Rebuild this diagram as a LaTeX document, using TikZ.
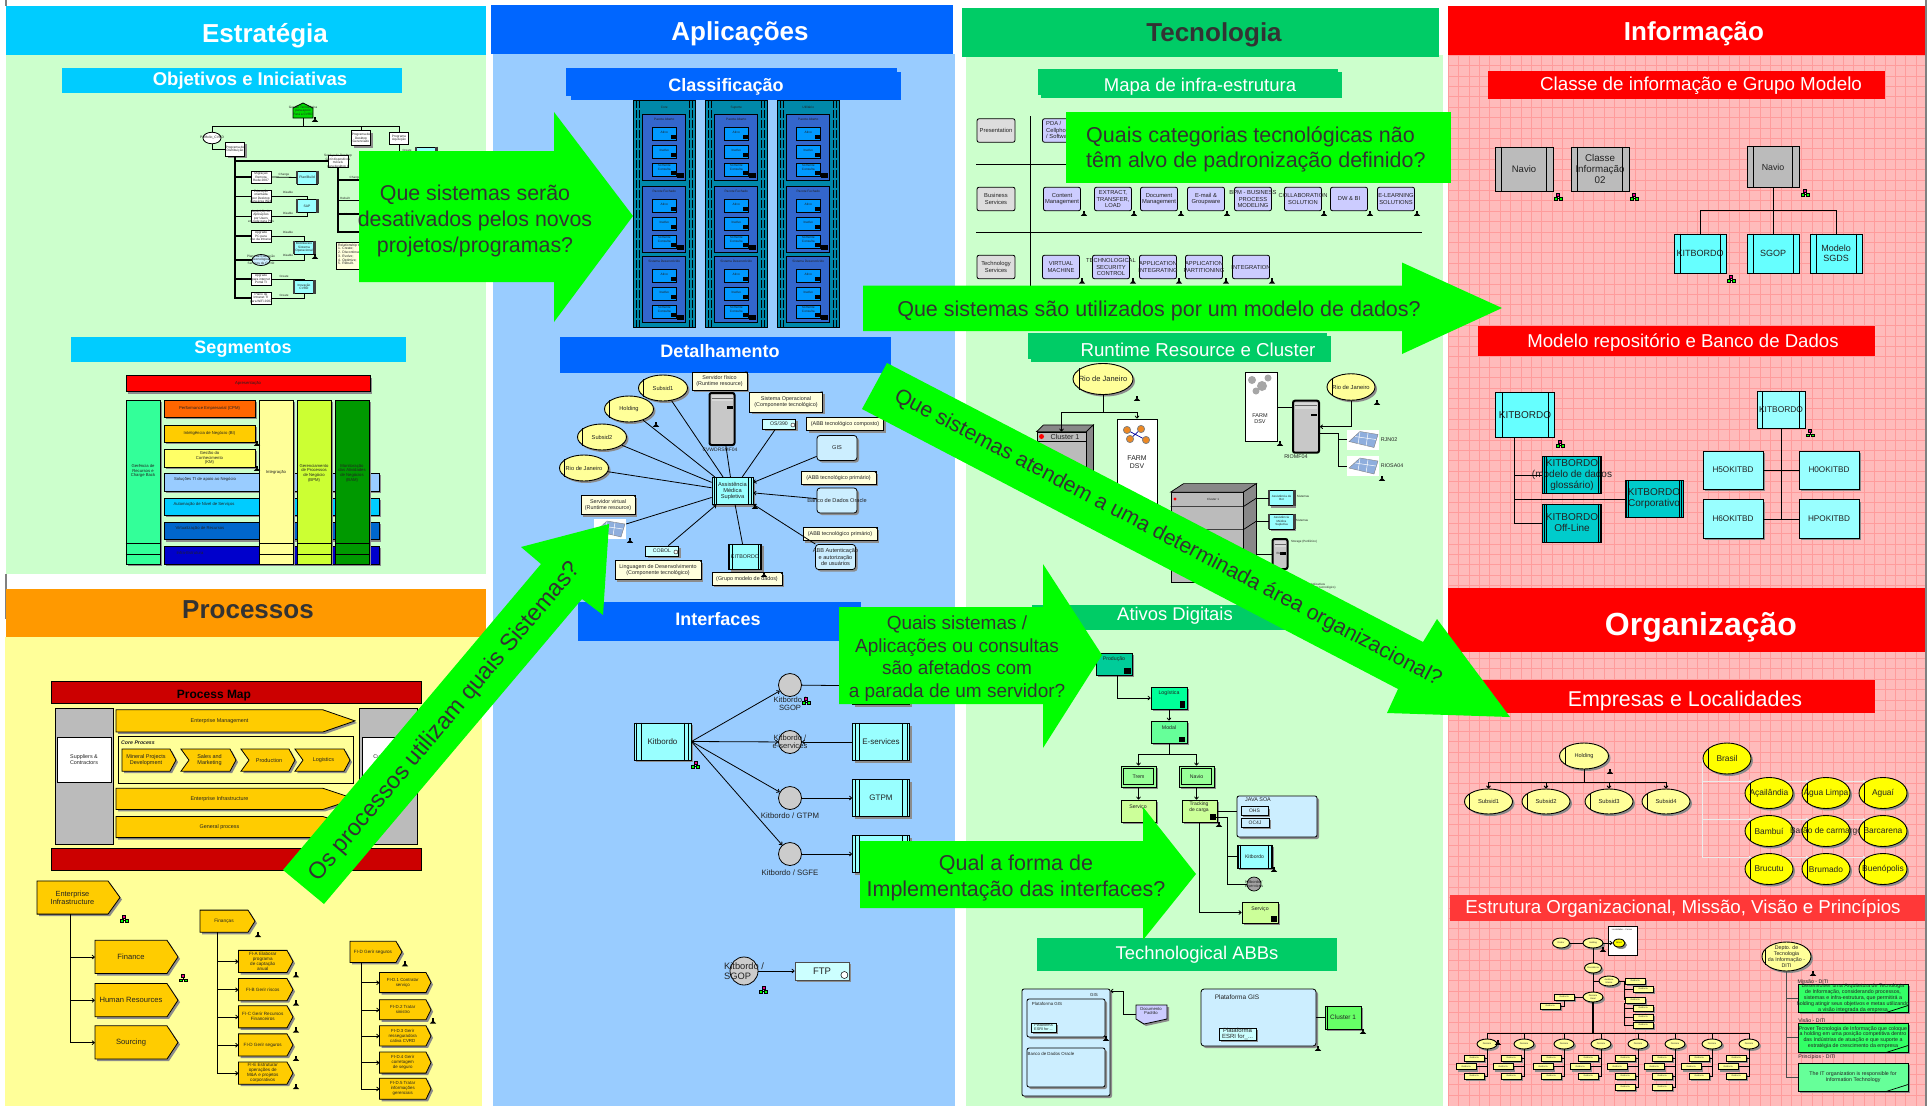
\documentclass[tikz,border=0pt]{standalone}
\usepackage{fontspec}
\setmainfont{Liberation Sans}
\usetikzlibrary{calc,shadows,shapes.geometric,shapes.misc,arrows.meta}
\pgfdeclarelayer{bg}\pgfdeclarelayer{lines}
\pgfsetlayers{bg,lines,main}
\definecolor{cEst}{HTML}{00CCFF}\definecolor{cApl}{HTML}{0066FF}\definecolor{cTec}{HTML}{00CC66}
\definecolor{cPro}{HTML}{FF9900}\definecolor{bgEst}{HTML}{CCFFCC}\definecolor{bgPro}{HTML}{FFFF99}
\definecolor{bgApl}{HTML}{99CCFF}\definecolor{bgInf}{HTML}{FFBBBB}\definecolor{gridc}{HTML}{FF9C9C}
\definecolor{arrowc}{HTML}{00FF00}\definecolor{txtc}{HTML}{222222}\definecolor{txd}{HTML}{333333}
\definecolor{chevc}{HTML}{FFCC00}\definecolor{grayb}{HTML}{BBBBBB}\definecolor{notec}{HTML}{FFFFDD}
\definecolor{ltb}{HTML}{CCEEFF}\definecolor{lav}{HTML}{CCCCFF}\definecolor{ylw}{HTML}{FFFF99}
\definecolor{cy}{HTML}{99FFFF}\definecolor{cy2}{HTML}{66FFFF}\definecolor{teal}{HTML}{00CCCC}
\definecolor{ffbox}{HTML}{CCFFFF}\definecolor{srvg}{HTML}{C8C8C8}
\newcommand\fz[1]{\fontsize{#1}{\the\dimexpr #1pt*11/10\relax}\selectfont}
\newcommand\fzl[2]{\fontsize{#1}{#2}\selectfont}
\tikzset{
 shd/.style={general shadow={shadow xshift=2pt,shadow yshift=-2pt,fill=black!45}},
 bxs/.style={draw=black,line width=.8pt,inner sep=0pt,shd},
 bxn/.style={draw=black,line width=.8pt,inner sep=0pt},
 elp/.style={ellipse,draw=black,line width=.9pt,inner sep=0pt,shd},
 txt/.style={inner sep=0pt,align=center,text=txtc},
 conn/.style={draw=black,line width=.8pt},
 arr/.style={conn,-{To[length=3pt,width=4.5pt]}},
 hexa/.style={chamfered rectangle,chamfered rectangle xsep=2.5pt,draw=black,line width=.9pt,inner sep=0pt,fill=white},
 pale/.style={draw=black!8,line width=1pt,-{To[length=3pt,width=4pt]}},
 bigt/.style={inner sep=0pt,align=center,text=txd},
}
\newcommand\nd[7]{\node[#1,minimum width=#4pt,minimum height=#5pt] (#2) at (#3) {};\node[txt,font=\fz{#6}] (#2t) at (#2) {#7};}
\newcommand\lb[4]{\node[txt,font=\fz{#3}] (#1) at (#2) {#4};}
\newcommand\lbw[4]{\node[inner sep=0pt,align=center,text=white,font=\fz{#3}] (#1) at (#2) {#4};}
\newcommand\bars[2]{\draw[line width=.7pt] ($(#1.north west)+(#2,0)$)--($(#1.south west)+(#2,0)$);\draw[line width=.7pt] ($(#1.north east)+(-#2,0)$)--($(#1.south east)+(-#2,0)$);}
\newcommand\sidebars[1]{\draw[line width=2.2pt,black!75] (#1.north west)--(#1.south west);\draw[line width=2.2pt,black!75] (#1.north east)--(#1.south east);}
\newcommand\chv[9]{\fill[black!45,shift={(2,2)}] (#2,#3)--({#4-#7},#3)--(#4,{(#3+#5)/2})--({#4-#7},#5)--(#2,#5)--({#2+#6},{(#3+#5)/2})--cycle;
 \draw[fill=chevc,line width=.8pt] (#2,#3)--({#4-#7},#3)--(#4,{(#3+#5)/2})--({#4-#7},#5)--(#2,#5)--({#2+#6},{(#3+#5)/2})--cycle;
 \node[inner sep=0pt,minimum width={(#4-#2)*1pt},minimum height={(#5-#3)*1pt}] (#1) at ({(#2+#4)/2},{(#3+#5)/2}) {};
 \node[txt,font=\fz{#8}] (#1t) at ({(#2+#4-#7+#6)/2},{(#3+#5)/2}) {#9};}
\newcommand\ico[1]{\begin{scope}[shift={(#1)}]\fill[black] (-1.4,-3.5) rectangle (1.4,-.7);\fill[black] (0,-1.5)--(3.2,1.8)--(-3.2,1.8)--cycle;\end{scope}}
\newcommand\icoc[1]{\begin{scope}[shift={(#1)}]\draw[black,line width=.5pt] (0,-1)--(0,0) (-3,1)--(3,1);\draw[black,fill=magenta,line width=.6pt] (-1.3,-4) rectangle (1.3,-1.2);\draw[black,fill=green,line width=.6pt] (-4,.6) rectangle (-1,3);\draw[black,fill=green,line width=.6pt] (1,.6) rectangle (4,3);\end{scope}}
\newcommand\notefold[1]{\fill[black] ($(#1.north east)+(-2.5,0)$)--(#1.north east)--($(#1.north east)+(0,2.5)$)--cycle;}
\newcommand\srv[4]{\node[draw=black,line width=2pt,rounded corners=2pt,fill=srvg,inner sep=0pt,minimum width=#3pt,minimum height=#4pt] (#1) at (#2) {};
 \fill[white!85!black] ($(#1.north west)+(3,3)$) rectangle ($(#1.north east)+(-3,9)$);\draw[black!60,line width=.6pt] ($(#1.north west)+(3,6)$)--($(#1.north east)+(-3,6)$);
 \fill[black] ($(#1.north east)+(-9,14)$) rectangle ($(#1.north east)+(-3,16.5)$);}
\newcommand\rck[3]{\node[fill=white,inner sep=0pt,minimum width=32pt,minimum height=20pt] (#1) at (#2) {};\begin{scope}[shift={(#2)}]\draw[fill=#3,draw=black!50,line width=.4pt] (-14,2)--(-3,-8)--(15,-5)--(11,8)--cycle;\draw[white,line width=.5pt] (-8,-3)--(13,0) (-3,-8)--(-5,5) (5,-6.5)--(3,7);\end{scope}}
\newcommand\orgbar[3]{\draw[line width=.8pt] ($(#1)+(-#2,-#3)$)--($(#1)+(-#2,#3)$);}
\begin{document}
\begin{tikzpicture}[x=1pt,y=-1pt]
\useasboundingbox (0,0) rectangle (1931,1106);
\begin{pgfonlayer}{bg}
\fill[white] (0,0) rectangle (1931,1106);
\fill[black!50] (5,0) rectangle (6.5,6);\fill[black!50] (5,574) rectangle (6.5,619);\fill[black!50] (1925,0) rectangle (1926.5,1106);
\fill[bgEst] (6,55) rectangle (486,574);
\fill[bgPro] (5,637) rectangle (482,1106);
\fill[bgApl] (493,54) rectangle (955,1106);
\fill[bgEst] (966,55) rectangle (1443,1106);
\fill[bgInf] (1448,55) rectangle (1925,1106);
\foreach \gx in {0,...,45} {\draw[gridc,line width=.5pt] ({1448+\gx*10.4},55)--({1448+\gx*10.4},1106);}
\foreach \gy in {0,...,100} {\draw[gridc,line width=.5pt] (1448,{55+\gy*10.4})--(1925,{55+\gy*10.4});}
\end{pgfonlayer}
% main headers
\fill[cEst] (6,6) rectangle (486,55);\lbw{hEst}{265,36}{26}{\bfseries Estratégia}
\fill[cPro] (6,589) rectangle (486,637);\node[txt,text=txd,font=\fz{26}\bfseries] (hPro) at (248,610) {Processos};
\fill[cApl] (491,5) rectangle (953,54);\lbw{hApl}{740,34}{26}{\bfseries Aplicações}
\fill[cTec] (962,8) rectangle (1439,57);\node[txt,text=txd,font=\fz{26}\bfseries] (hTec) at (1214,35) {Tecnologia};
\fill[red] (1448,6) rectangle (1925,55);\lbw{hInf}{1694,34}{26}{\bfseries Informação}
\fill[red] (1448,588) rectangle (1925,652);\lbw{hOrg}{1701,627}{32}{\bfseries Organização}
% sub headers
\fill[cEst] (62,68) rectangle (402,92.5);\lbw{sObj}{250,81}{18.5}{\bfseries Objetivos e Iniciativas}
\fill[cEst] (71,337) rectangle (406,362);\lbw{sSeg}{243,349}{18}{\bfseries Segmentos}
\fill[cApl] (566,68) rectangle (897,96);\fill[cApl] (571,72) rectangle (901,100);\lbw{sCla}{726,87}{18}{\bfseries Classificação}
\fill[cApl] (560,337) rectangle (891,373);\lbw{sDet}{720,351}{18}{\bfseries Detalhamento}
\fill[cApl] (578,602) rectangle (861,641);\lbw{sInt}{718,619}{18}{\bfseries Interfaces}
\fill[cTec] (1038,69) rectangle (1338,95);\fill[cTec] (1041,72) rectangle (1342,98);\lbw{sMap}{1200,87}{18.5}{Mapa de infra-estrutura}
\fill[cTec] (1028,333) rectangle (1327,359);\fill[cTec] (1031,336) rectangle (1331,362);\lbw{sRun}{1198,350}{18.7}{Runtime Resource e Cluster}
\fill[cTec] (1032,605) rectangle (1300,630);\lbw{sAti}{1175,616}{18.4}{Ativos Digitais}
\fill[cTec] (1037,938) rectangle (1337,971);\lbw{sTec}{1197,955}{18.4}{Technological ABBs}
\fill[red] (1488,71) rectangle (1885,99);\lbw{sCls}{1701,86}{18.8}{Classe de informação e Grupo Modelo}
\fill[red] (1478,326) rectangle (1875,356);\lbw{sMod}{1683,343}{18.6}{Modelo repositório e Banco de Dados}
\fill[red] (1470,680) rectangle (1875,713);\lbw{sEmp}{1685,701}{21.4}{Empresas e Localidades}
\fill[red!70!bgInf] (1450,895) rectangle (1925,921);\lbw{sEsOrg}{1683,908.5}{18.7}{Estrutura Organizacional, Missão, Visão e Princípios}

% ---------- Objetivos
\draw[fill=green!85!black,line width=.8pt] (293,108)--(303,103)--(313,108)--(313,118)--(293,118)--cycle;
\nd{inner sep=0pt}{ob0}{303,110.5}{20}{15}{3.2}{Gestão Tecnológica\\para apoio\\Pará a CVRD}
\nd{ellipse,draw=black,line width=.8pt,fill=white,inner sep=0pt}{oa}{212,138}{18}{11.5}{3.4}{Portfolio\_CVRD}
\nd{bxs,fill=white}{ob1}{235,149}{19}{14}{3.2}{Programa de\\Distribuição}
\nd{bxs,fill=white}{oc}{361,138}{19}{15}{3.2}{Programa de\\Desktop\\Gerenciado}
\nd{hexa}{od}{399,138}{19}{12}{3.2}{Programa\\Aquisição}
\nd{hexa}{hx}{338,161}{20}{12}{3.2}{Serviço de Desktop\\Gerir dispositivos\\móveis\\para desktop 1}
\coordinate (obj) at (303,126);
\draw[conn] (ob0.south)--(obj);\draw[conn] (oa.north)|-(obj);\draw[conn] (oc.north)|-(obj);\draw[conn] (od.north)|-(obj);
\draw[conn] (oa.south)|-(ob1.west);
\nd{hexa}{h1}{261,177}{20}{12}{3.2}{Migração\\Remota\\Rede 2007}
\nd{hexa}{h2}{261,196.5}{20}{12}{3.2}{Educação\\orientada\\por Desktop\\para área Web}
\nd{hexa}{h3}{261,216.5}{20}{12}{3.2}{Aquisição de\\Aplicações\\por Users\\em rede para PCs}
\nd{hexa}{h4}{261,236}{20}{12}{3.2}{Upgrade\\PC para\\uso da Intranet}
\nd{ellipse,draw=black,line width=.8pt,fill=ltb,inner sep=0pt}{h5}{261,260}{18}{11}{3.2}{Plano de Educação\\Tecnológica\\Serviços de CVRD}
\nd{hexa}{h6}{261,279}{20}{12}{3.2}{Upgrade\\para internet\\Portal TI}
\nd{hexa}{h7}{261,298}{20}{12}{3.2}{Plano de\\Intranet TI\\para WiFi 2007}
\foreach \i in {1,...,7}{\draw[conn,line width=1.1pt] (ob1.south)|-(h\i.west);}
\draw[conn,line width=1.1pt] (ob1.south)|-(hx.west);
\nd{bxn,fill=cy}{b1}{307,177.5}{20}{13}{3.4}{Plan/Build}\sidebars{b1}
\nd{bxn,fill=cy}{b2}{307,206}{20}{13}{3.4}{SAP}\sidebars{b2}
\nd{bxn,fill=cy}{b3}{304,247.5}{20}{13}{3.2}{Middleware\\Sistema\\Operacional}\sidebars{b3}
\nd{bxn,fill=cy}{b4}{304,287}{20}{13}{3.2}{Inovação\\CVRD}\sidebars{b4}
\nd{bxn,fill=cy}{b5}{426,155}{20}{16}{3.2}{Sistema}\sidebars{b5}
\draw[conn] (h1.east)--(b1.west);\draw[conn] (h2.east)-|(b2.north);\draw[conn] (h3.east)-|(b2.south);
\draw[conn] (h4.east)-|(b3.north);\draw[conn] (h5.east)-|(b3.south);\draw[conn] (h6.east)-|(b4.north);\draw[conn] (h7.east)-|(b4.south);
\draw[conn] (od.south)|-(b5.west);
\lb{l1}{284,175}{3}{Change}\lb{l2}{288,192}{3}{Disable}\lb{l3}{288,213}{3}{Disable}\lb{l4}{288,232}{3}{Disable}\lb{l5}{288,255}{3}{Disable}\lb{l6}{284,276}{3}{Create}\lb{l7}{284,295}{3}{Create}
\lb{l8}{407,150}{3}{Create}\lb{l9}{355,178}{3}{Change}\lb{l10}{345,198}{3}{Rebuilt}\lb{l11}{352,214}{3}{Discontinue}
\coordinate (hq1) at (400,180);\coordinate (hq2) at (400,200.5);\coordinate (hq3) at (400,214);\coordinate (hq4) at (400,232);
\foreach \i in {1,2,3,4}{\draw[conn,line width=1.1pt] (hx.south)|-(hq\i);}
\node[bxn,fill=notec,minimum width=50pt,minimum height=27pt] (onote) at (361,255.5) {};
\node[txt,font=\fz{3.4},align=left,anchor=north west] (onotet) at (338,243.5) {Relationship to:\\1. Create;\\2. Discontinue;\\3. Evolve;\\4. Optimize;\\5. Rebuilt.};
\ico{315,120}\ico{315,257}

% ---------- Segmentos
\nd{bxs,fill=red}{g0}{248,383.5}{244}{16}{4.2}{Apresentação}
\definecolor{sa}{HTML}{FF6600}\definecolor{sb}{HTML}{FFCC00}\definecolor{sc}{HTML}{FFFF66}\definecolor{sd}{HTML}{99CCFF}\definecolor{se}{HTML}{00CCFF}\definecolor{sf}{HTML}{0066CC}\definecolor{sg}{HTML}{0000CC}\definecolor{sh}{HTML}{33FF99}\definecolor{si}{HTML}{CCFF33}\definecolor{sj}{HTML}{009900}
\nd{bxs,fill=sd}{g4}{271.5,482}{215}{18}{4.2}{}\lb{g4l}{205,479}{4.2}{Soluções TI de apoio ao Negócio}
\nd{bxs,fill=se}{g5}{271.5,506.5}{215}{17}{4.2}{}\lb{g5l}{204,504}{4.2}{Automação de Nível de Serviços}
\nd{bxs,fill=sf}{g6}{271.5,531}{215}{17.5}{4.2}{}\lb{g6l}{200,528}{4.2}{Virtualização de Recursos}
\nd{bxs,fill=sg}{g8}{271.5,555}{215}{18}{4.2}{}\lb{g8l}{190,553}{4.2}{Infra-Estrutura}
\nd{bxs,fill=sa}{g1}{209.5,408.5}{91}{17}{4.2}{Performance Empresarial (CPM)}
\nd{bxs,fill=sb}{g2}{209.5,433.5}{91}{17}{4.2}{Inteligência de Negócio (BI)}
\nd{bxs,fill=sc}{g3}{209.5,458}{91}{18}{4.2}{Gestão do\\Conhecimento\\(KM)}
\nd{bxs,fill=sh}{c1}{143,482}{34}{164}{4.2}{}\lb{c1l}{143,471}{4.2}{Gerência de\\Recursos e\\Charge Back}
\nd{bxs,fill=ylw}{c2}{276,482}{34}{164}{4.2}{}\lb{c2l}{276,472}{4.2}{Integração}
\nd{bxs,fill=si}{c3}{314,482}{34}{164}{4.2}{}\lb{c3l}{314,473}{4.2}{Gerenciamento\\de Processos\\de Negócio\\(BPM)}
\nd{bxs,fill=sj}{c4}{352,482}{34}{164}{4.2}{}\lb{c4l}{352,473}{4.2}{Monitoração\\das Atividades\\de Negócios\\(BAM)}
\foreach \i in {1,2,3,4}{\draw[line width=.7pt] ($(c\i.south west)+(0,-21)$)--($(c\i.south east)+(0,-21)$);\draw[line width=.7pt] ($(c\i.south west)+(0,-10)$)--($(c\i.south east)+(0,-10)$);}
\ico{257,444}\ico{257,469}

% ---------- Processos
\begin{scope}[shift={(0,580)},yscale=1.0064,shift={(0,-580)}]
\nd{bxn,fill=red!80!black}{pm}{236,692}{370}{22}{12}{}\node[txt,font=\fz{12}\bfseries,text=black] (pmt2) at (214,695) {Process Map};
\nd{bxn,fill=grayb}{pg1}{84,775}{58}{136}{1}{}\nd{bxn,fill=grayb}{pg2}{388,775}{58}{136}{1}{}
\nd{bxn,fill=white}{pw1}{84,758.5}{54}{45}{5.4}{Suppliers \&\\Contractors}
\nd{bxn,fill=white}{pw2}{389,758.5}{54}{45}{5.4}{Customers \&\\Services}
\nd{bxn,fill=red!80!black}{pm2}{236,858}{370}{22}{1}{}
\chv{p1}{116}{709}{355}{731}{0}{32}{5.4}{Enterprise Management}
\nd{bxn,fill=bgPro}{pc}{235.5,758.5}{235}{47}{1}{}
\node[txt,font=\fz{5.2}\bfseries\itshape] (pct2) at (138,742) {Core Process};
\chv{p2}{122}{748}{176}{770}{0}{6}{5.5}{Mineral Projects\\Development}
\chv{p3}{181}{748}{236}{770}{8}{6}{5.5}{Sales and\\Marketing}
\chv{p4}{241}{748}{295}{770}{8}{6}{5.5}{Production}
\chv{p5}{295}{748}{350}{770}{8}{6}{5.5}{Logistics}
\chv{p6}{116}{787}{355}{808}{0}{32}{5.4}{Enterprise Infrastructure}
\chv{p7}{116}{815}{355}{836}{0}{32}{5.4}{General process}
\chv{e0}{37}{879}{120}{912}{0}{12}{7.4}{Enterprise\\Infrastructure}
\chv{e1}{95}{938}{178}{971}{0}{11}{7.6}{Finance}
\chv{e2}{95}{981}{178}{1014}{0}{11}{7.6}{Human Resources}
\chv{e3}{95}{1023}{178}{1056}{0}{11}{7.6}{Sourcing}
\coordinate (e0t) at (70.5,912);
\foreach \i in {1,2,3}{\draw[arr] (e0t)|-(e\i.west);}
\icoc{124,917}\icoc{183,976}
\chv{f0}{200}{908}{255}{930}{0}{7}{4.8}{Finanças}
\chv{f1}{238.5}{948}{293}{970}{0}{6}{4.6}{FI-A Elaborar\\programa\\de captação\\anual}
\chv{f2}{238.5}{976}{293}{998}{0}{6}{4.6}{FI-B Gerir riscos}
\chv{f3}{238.5}{1003}{293}{1025}{0}{6}{4.6}{FI-C Gerir Recursos\\Financeiros}
\chv{f4}{238.5}{1031}{293}{1053}{0}{6}{4.6}{FI-D Gerir seguros}
\chv{f5}{238.5}{1059}{293}{1081}{0}{6}{4.6}{FI-E Estruturar\\operações de\\M\&A e projetos\\corporativos}
\coordinate (f0t) at (217,930);
\foreach \i in {1,...,5}{\draw[arr] (f0t)|-(f\i.west);}
\ico{258,933}\ico{296,973}\ico{296,1001}\ico{296,1028}\ico{296,1056}\ico{296,1084}
\chv{d0}{350}{939}{402}{960}{0}{6}{4.6}{FI-D Gerir seguros}
\chv{d1}{379.5}{970}{431}{990}{0}{5}{4.4}{FI-D.1 Contratar\\serviço}
\chv{d2}{379.5}{997}{431}{1017}{0}{5}{4.4}{FI-D.2 Tratar\\sinistro}
\chv{d3}{379.5}{1023}{431}{1043}{0}{5}{4.4}{FI-D.3 Gerir\\resseguradora\\cativa CVRD}
\chv{d4}{379.5}{1049}{431}{1070}{0}{5}{4.4}{FI-D.4 Gerir\\corretagem\\de seguro}
\chv{d5}{379.5}{1075}{431}{1096}{0}{5}{4.4}{FI-D.5 Tratar\\informações\\gerenciais}
\coordinate (d0t) at (361,960);
\foreach \i in {1,...,5}{\draw[arr] (d0t)|-(d\i.west);}
\ico{405,962}\ico{433,1019}
\end{scope}

% ---------- Classificacao
\definecolor{cola}{HTML}{0088AA}\definecolor{colb}{HTML}{3366CC}\definecolor{colc}{HTML}{0099FF}
\foreach \cn/\cx/\ct in {a/633/Core,b/705/Suporte,c/777/Utilitário}{
 \node[bxn,fill=cola,minimum width=62.5pt,minimum height=227pt] (cl\cn) at ({\cx+31.25},213.5) {};
 \foreach \dd in {3,6,56.5,59.5}{\draw[black,line width=.7pt,dash pattern=on 8pt off 2pt] ({\cx+\dd},100)--({\cx+\dd},327);}
 \node[txt,font=\fz{3.2}] (clt\cn) at ({\cx+31.25},107.5) {\ct};
 \foreach \rn/\ry/\rt in {1/114/Pacote Aberto,2/186/Pacote Fechado,3/256/Sistema Desenvolvido}{
  \node[bxn,fill=colb,minimum width=43pt,minimum height=66pt] (cr\cn\rn) at ({\cx+31.25},{\ry+33}) {};
  \node[txt,font=\fz{3.2}] (crt\cn\rn) at ({\cx+31.25},{\ry+5}) {\rt};
  \foreach \qn/\qy/\qt in {1/20/Ativo,2/38/Inativo,3/55.5/Somente\\Consulta}{
   \node[bxn,fill=colc,minimum width=24.5pt,minimum height=13pt] (cq\cn\rn\qn) at ({\cx+31.25},{\ry+\qy}) {};
   \node[txt,font=\fz{3.2}] (cqt\cn\rn\qn) at ({\cx+31.25},{\ry+\qy-2}) {\qt};
   \fill[black] ({\cx+38},{\ry+\qy+1}) rectangle ({\cx+43},{\ry+\qy+5});
  }
  \fill[black] ({\cx+44},{\ry+59}) rectangle ({\cx+51},{\ry+64});
 }
}
% ---------- Detalhamento
\nd{bxs,fill=cy}{dc}{732.5,491}{41}{27}{5.7}{Assistência\\Médica\\Supletiva}\bars{dc}{2.5}\bars{dc}{5}
\nd{elp,fill=ylw}{dE1}{663,388}{49}{26}{5.7}{Subsid1}\orgbar{dE1}{20}{9}
\nd{elp,fill=ylw}{dE2}{629,409}{49}{26}{5.7}{Holding}\orgbar{dE2}{20}{9}
\nd{elp,fill=ylw}{dE3}{602,437}{49}{26}{5.7}{Subsid2}\orgbar{dE3}{20}{9}
\nd{elp,fill=ylw}{dE4}{584,468}{49}{26}{5.7}{Rio de Janeiro}\orgbar{dE4}{20}{9}
\nd{bxs,fill=notec}{dn1}{719.5,381}{55}{18}{5.4}{Servidor físico\\(Runtime resource)}\notefold{dn1}
\nd{bxs,fill=notec}{dn2}{786,402}{73}{20}{5.4}{Sistema Operacional\\(Componente tecnológico)}\notefold{dn2}
\nd{bxs,fill=notec}{dn3}{845,424}{77}{13.5}{5.4}{(ABB tecnológico composto)}\notefold{dn3}
\nd{bxs,fill=notec}{dn4}{838.5,478}{75}{12.5}{5.4}{(ABB tecnológico primário)}\notefold{dn4}
\nd{bxs,fill=notec}{dn5}{840,534}{74}{13}{5.4}{(ABB tecnológico primário)}\notefold{dn5}
\nd{bxs,fill=notec}{dn6}{608,505}{54}{19}{5.4}{Servidor virtual\\(Runtime resource)}\notefold{dn6}
\nd{bxs,fill=notec}{dn7}{658,570}{86}{19}{5.4}{Linguagem de Desenvolvimento\\(Componente tecnológico)}\notefold{dn7}
\nd{bxs,fill=notec}{dn8}{747,579}{70}{12.5}{5.4}{(Grupo modelo de dados)}\notefold{dn8}
\srv{ds1}{722,419}{25}{52}\lb{ds1l}{720,450}{5}{CVWDRSMF04}
\nd{bxs,fill=ffbox}{dOS}{779,424}{33}{10}{5.2}{OS/390}\draw[fill=white,line width=.4pt] ($(dOS.east)+(-3,1)$) circle (2);
\nd{bxs,fill=ltb,rounded corners=3pt}{dGIS}{837,448}{40}{25}{5.6}{GIS}
\nd{bxs,fill=ltb,rounded corners=3pt}{dBD}{837,500.5}{40}{25}{5.6}{Banco de Dados Oracle}
\nd{bxs,fill=ltb,rounded corners=3pt}{dAB}{835.5,557}{40}{25}{5.6}{ABB Autenticação\\e autorização\\de usuários}
\nd{bxs,fill=ffbox}{dCO}{662,551}{33}{10}{5.2}{COBOL}\draw[fill=white,line width=.4pt] ($(dCO.east)+(-3,1)$) circle (2);
\nd{bxs,fill=cy}{dKI}{745,557}{33}{25.5}{5.4}{KITBORDO}\bars{dKI}{1.5}\bars{dKI}{4}
\definecolor{rackc}{HTML}{8FAEDD}
\rck{dRK}{610,529}{rackc}
\foreach \a in {dE1,dE2,dE3,dE4,dRK}{\draw[conn] (\a)--(dc);}
\draw[conn] (ds1)--(dc);\draw[conn] (dOS)--(dc);\draw[conn] (dKI)--(dc);
\draw[arr] (dGIS)--(dc);\draw[arr] (dBD)--(dc);\draw[arr] (dAB)--(dc);\draw[arr] (dCO)--(dc);
\ico{656,425}\ico{755,507}\ico{630,541}\ico{764,575}
% ---------- Interfaces
\definecolor{cirg}{HTML}{CCCCCC}
\nd{bxs,fill=cy}{iK}{662.5,741.5}{57}{37}{8}{Kitbordo}\bars{iK}{3}\bars{iK}{7.5}
\foreach \i/\y in {1/685,2/742,3/798,4/854}{\node[circle,draw=black,line width=.8pt,fill=cirg,minimum size=23pt,inner sep=0pt] (iC\i) at (790,\y) {};}
\foreach \i/\y/\t in {1/686/SGOP,2/742/E-services,3/798/GTPM,4/854/SGFE}{\nd{bxs,fill=cy}{iA\i}{881,\y}{57}{37}{8}{\t}\bars{iA\i}{3}\bars{iA\i}{7.5}}
\lb{iL1}{790,704}{7.6}{Kitbordo /\\SGOP}\lb{iL2}{790,742}{7.6}{Kitbordo /\\e-services}\lb{iL3}{790,816}{7.8}{Kitbordo / GTPM}\lb{iL4}{790,873}{7.8}{Kitbordo / SGFE}
\foreach \i in {1,2,3,4}{\draw[arr] (iK.east)--(iC\i);}
\draw[arr] (iA2)--(iC2);\draw[arr] (iC1)--(iA1);\draw[arr] (iC3)--(iA3);\draw[arr] (iC4)--(iA4);
\icoc{695.5,765}\icoc{806,701}
\node[circle,draw=black,line width=.8pt,fill=cirg,minimum size=28pt,inner sep=0pt] (iC5) at (744,971) {};
\node[txt,font=\fz{9.3},align=left,anchor=west] (iL5) at (724,971) {Kitbordo /\\SGOP};
\nd{bxs,fill=ffbox,draw=black!70}{iF}{822,971}{54}{18}{9.5}{FTP}\draw[fill=white,line width=.5pt] ($(iF.east)+(-5,4)$) circle (3.5);
\draw[arr] (iC5)--(iF);\icoc{763.5,990}

% ---------- Mapa
\definecolor{gry}{HTML}{DDDDDD}
\foreach \n/\y/\t in {1/130.5/Presentation,2/199/Business\\Services,3/267/Technology\\Services}{\nd{bxn,fill=gry,rounded corners=2pt}{mg\n}{996,\y}{38}{23.5}{5.8}{\t}}
\coordinate (mv1) at (1030,116);\coordinate (mv2) at (1030,286);\draw[conn] (mv1)--(mv2);
\coordinate (mh1) at (976,164.5);\coordinate (mh2) at (1422,164.5);\draw[conn] (mh1)--(mh2);
\coordinate (mh3) at (976,232.7);\coordinate (mh4) at (1422,232.7);\draw[conn,line width=1.3pt] (mh3)--(mh4);
\nd{bxn,fill=lav,rounded corners=2pt}{m0}{1061,130.5}{37}{23.5}{5.8}{}\node[txt,font=\fz{5.8},align=left,anchor=west] (m0l) at (1046,130) {PDA /\\Cellphone\\/ Software};
\foreach \n/\x/\t in {1/1062/Content\\Management,2/1113/EXTRACT{,}\\TRANSFER{,}\\LOAD,3/1159/Document\\Management,4/1206/E-mail \&\\Groupware,5/1253/BPM - BUSINESS\\PROCESS\\MODELING,6/1303/COLLABORATION\\SOLUTION,7/1349/DW \& BI,8/1396/E-LEARNING\\SOLUTIONS}{\nd{bxn,fill=lav,rounded corners=2pt}{mb\n}{\x,199}{37}{23.5}{5.8}{\t}}
\foreach \x in {1084,1134,1181,1227,1324,1370,1417}{\ico{\x,214}}
\foreach \n/\x/\t in {1/1061/VIRTUAL\\MACHINE,2/1111/TECHNOLOGICAL\\SECURITY\\CONTROL,3/1158/APPLICATION\\INTEGRATING,4/1204/APPLICATION\\PARTITIONING,5/1251/INTEGRATION}{\nd{bxn,fill=lav,rounded corners=2pt}{mt\n}{\x,267}{37}{23.5}{5.8}{\t}}
\foreach \x in {1082,1133,1179,1226,1272}{\ico{\x,281.7}}

% ---------- Runtime
\definecolor{cbxd}{HTML}{888888}
\nd{elp,fill=ylw}{rE1}{1103,379}{60}{31}{7.5}{Rio de Janeiro}\orgbar{rE1}{24}{11}
\ico{1137,399}
\node[bxn,fill=grayb,minimum width=49pt,minimum height=48pt] (rC1) at (1061.5,456) {};
\draw[fill=cbxd,line width=.7pt] (rC1.north west)--($(rC1.north west)+(7,-6.7)$)--($(rC1.north east)+(7,-6.7)$)--(rC1.north east)--cycle;
\draw[fill=cbxd,line width=.7pt] (rC1.north east)--($(rC1.north east)+(7,-6.7)$)--($(rC1.south east)+(7,-6.7)$)--(rC1.south east)--cycle;
\draw[line width=.7pt] ($(rC1.north west)+(0,10)$)--($(rC1.north east)+(0,10)$);
\fill[red] (1041.5,436.5) circle (2.5);\lb{rC1l}{1065,436.5}{7.2}{Cluster 1}
\node[bxn,fill=white,minimum width=40pt,minimum height=100pt] (rF1) at (1137,469) {};
\definecolor{orn}{HTML}{EE8822}
\draw[line width=.7pt,blue!60!black] (1127,430)--(1146,440) (1141,429)--(1130,439);
\foreach \px/\py in {1127/430,1141/429,1130/439,1146/440}{\draw[fill=orn,draw=black!50,line width=.8pt] (\px,\py) circle (3.6);}
\lb{rF1l}{1137,462}{6.9}{FARM\\DSV}
\coordinate (rj) at (1103,412);\draw[conn] (rE1.south)--(rj);\draw[arr] (rj)-|(rC1.north);\draw[arr] (rj)-|(rF1.north);
\node[bxn,fill=grayb,minimum width=72pt,minimum height=89.5pt] (rC2) at (1207,537.25) {};
\draw[fill=cbxd,line width=.7pt] (rC2.north west)--($(rC2.north west)+(13,-8.5)$)--($(rC2.north east)+(13,-8.5)$)--(rC2.north east)--cycle;
\draw[fill=cbxd,line width=.7pt] (rC2.north east)--($(rC2.north east)+(13,-8.5)$)--($(rC2.south east)+(13,-8.5)$)--(rC2.south east)--cycle;
\draw[line width=.7pt] ($(rC2.north west)+(0,14.5)$)--($(rC2.north east)+(0,14.5)$)--($(rC2.north east)+(13,6)$);\draw[line width=.7pt] ($(rC2.north west)+(0,37.5)$)--($(rC2.north east)+(0,37.5)$)--($(rC2.north east)+(13,29)$);
\fill[red] (1175,499) circle (1.6);\lb{rC2l}{1213,499}{3}{Cluster 1}
\nd{bxs,fill=cy}{rA1}{1281.5,498}{25}{15.5}{3}{Assistência de\\Bot}\sidebars{rA1}
\nd{bxs,fill=cy}{rA2}{1281.5,521.5}{25}{15}{3}{Assistência\\Médica\\Supletiva}\sidebars{rA2}
\srv{rS1}{1280,554}{15}{30}\lb{rS1l}{1280,553}{3}{EMC}
\coordinate (rca) at (1256,498);\coordinate (rcb) at (1256,521.5);\coordinate (rcc) at (1256,554);
\draw[conn] (rca)--(rA1.west);\draw[conn] (rcb)--(rA2.west);\draw[conn] (rcc)--(rS1.west);
\lb{rl1}{1303,496}{3}{Sistemas}\lb{rl2}{1302,520}{3}{Sistemas}\lb{rl3}{1304,542}{3}{Storage (Periférico)}\lb{rl4}{1318,586}{3}{Aplicativos\\(Componente tecnológico)}
\node[bxn,fill=white,minimum width=32pt,minimum height=68.5pt] (rF2) at (1261,406.7) {};
\foreach \px/\py/\pr in {1252/380/4,1262/386/5,1268/378/3.5,1256/391/3.5}{\fill[black!35] (\px,\py) circle (\pr);}
\lb{rF2l}{1260,419}{5.5}{FARM\\DSV}\ico{1280,444}
\srv{rS2}{1306,426.7}{26}{52}\lb{rS2l}{1296,457}{5.4}{RIOMF04}
\nd{elp,fill=ylw}{rE2}{1351,387}{48}{26.5}{5.8}{Rio de Janeiro}\orgbar{rE2}{19}{9}\ico{1377,403}
\rck{rR1}{1363,439.5}{rackc}\lb{rR1l}{1389,440}{5.4}{RJN02}
\rck{rR2}{1363,466}{rackc}\lb{rR2l}{1392,466}{5.3}{RIOSA04}\ico{1382,479}
\draw[arr] (rE2.south)|-(rS2.east);
\coordinate (rs2r) at (1277,407);\coordinate (rs2s) at (1293,407);\draw[conn] (rs2r)--(rs2s);
\coordinate (rs3) at (1319,433);\coordinate (rsb) at (1338,433);\draw[conn] (rs3)--(rsb);\draw[conn] (rsb)|-(rR1.west);\draw[conn] (rsb)|-(rR2.west);

% ---------- Ativos
\definecolor{aa}{HTML}{00CC99}\definecolor{ab}{HTML}{00FF99}\definecolor{ac}{HTML}{66FF99}\definecolor{ad}{HTML}{99FF99}\definecolor{ae}{HTML}{CCFF99}
\nd{bxs,fill=aa}{a1}{1114,664}{36}{22}{5.2}{}\lb{a1l}{1114,659}{5.2}{Produção}\fill[black] (1124,668) rectangle (1131,674);
\nd{bxs,fill=ab}{a2}{1169,698}{36}{22}{5.2}{}\lb{a2l}{1169,693}{5.2}{Logística}\fill[black] (1180,701) rectangle (1185,708);
\nd{bxs,fill=ac}{a3}{1169,732}{36}{22}{5.2}{}\lb{a3l}{1169,728}{5.2}{Modal}\fill[black] (1179,737) rectangle (1185,742);
\nd{bxs,fill=ad}{a4}{1138.5,776.5}{35}{21}{5.2}{Trem}\draw[line width=.6pt] ($(a4.north west)+(3,3)$) rectangle ($(a4.south east)+(-3,-3)$);
\nd{bxs,fill=ad}{a5}{1196.5,776.5}{35}{21}{5.2}{Navio}\draw[line width=.6pt] ($(a5.north west)+(3,3)$) rectangle ($(a5.south east)+(-3,-3)$);
\nd{bxs,fill=ae}{a6}{1138.5,811}{35}{22}{5.2}{}\lb{a6l}{1138,807}{5.2}{Serviço}
\nd{bxs,fill=ae}{a7}{1199.5,811}{35}{22}{5.2}{}\lb{a7l}{1199,807}{5}{Tracking\\de carga}
\fill[black] (1210,814) rectangle (1216,820);
\nd{bxs,fill=ltb,rounded corners=2pt}{a8}{1277,816.5}{80}{41}{5.2}{}\lb{a8l}{1258,800}{5.4}{JAVA SOA}
\nd{bxs,fill=ltb}{a9}{1254.5,811}{27}{8.5}{5}{OHS}\nd{bxs,fill=ltb}{a10}{1255,822.5}{28}{9}{5}{OC4J}
\nd{bxs,fill=cy}{a11}{1254.5,856.5}{35}{23}{5.1}{Kitbordo}\bars{a11}{1.5}\bars{a11}{4}
\node[circle,draw=black,line width=.7pt,fill=cirg!80!black,minimum size=14pt,inner sep=0pt] (a12) at (1254,884) {};\lb{a12l}{1254,884}{4}{Kitbordo /\\e-services}
\nd{bxs,fill=ae}{a13}{1260,912.5}{36}{21}{5.2}{}\lb{a13l}{1260,909}{5.2}{Serviço}\fill[black] (1271,916) rectangle (1277,922);
\coordinate (a1s) at (1117,675);\draw[arr] (a1s)|-(a2.west);\draw[arr] (a2)--(a3);
\coordinate (a3j) at (1169,754);\draw[conn] (a3.south)--(a3j);\draw[arr] (a3j)-|(a4.north);\draw[arr] (a3j)-|(a5.north);
\draw[arr] (a4)--(a6);\draw[arr] (a5.south)--(a5.south|-a7.north);
\draw[conn] (a7.east)--(a8.west|-a7.east);
\coordinate (a7r) at (1227,817);\coordinate (a7e) at (1216,817);\draw[conn,line width=1pt] (a7e)--(a7r);\draw[conn,line width=1pt] (a7r)|-(a11.west);\draw[conn,line width=1pt] (a7r)|-(a12.west);
\coordinate (a7s) at (1199,822);\draw[arr] (a7s)|-(a13.west);
\ico{1219,825}\ico{1274,870}
% ---------- ABBs
\nd{bxs,fill=ltb,rounded corners=2pt}{t1}{1066,1042.5}{88}{107}{4.4}{}\lb{t1l}{1094,995}{4.4}{GIS}
\nd{bxs,fill=ltb,rounded corners=2pt}{t2}{1066,1018}{78}{38}{4.4}{}\lb{t2l}{1047,1004}{4.4}{Plataforma GIS}
\nd{bxs,fill=ffbox}{t3}{1043.5,1027.5}{25}{9}{3.8}{Plataforma\\ESRI for ...}
\nd{bxs,fill=ltb,rounded corners=2pt}{t4}{1066,1067.5}{78}{39}{4.4}{}\lb{t4l}{1051,1054}{4.4}{Banco de Dados Oracle}
\ico{1106,1039}
\fill[black!45,shift={(2,2)}] (1136,1005)--(1167,1005)--(1167,1019)--(1144,1024)--(1136,1019)--cycle;
\draw[fill=lav,line width=.8pt] (1136,1005)--(1167,1005)--(1167,1019)--(1144,1024)--(1136,1019)--cycle;
\node[inner sep=0pt,minimum width=31pt,minimum height=19pt] (t5) at (1151.5,1014.5) {};\lb{t5l}{1151,1011}{4.2}{Documento\\Padrão}
\coordinate (t5j) at (1123,1014);\draw[conn] (t5.west|-t5j)--(t5j);\coordinate (t5k) at (1123,991);\draw[conn] (t5j)--(t5k);\draw[arr] (t5k)--(t1.east|-t5k);
\nd{bxs,fill=ltb,rounded corners=3pt}{t6}{1258.5,1017.5}{115}{57}{6.5}{}\lb{t6l}{1237,997}{6.5}{Plataforma GIS}
\nd{bxs,fill=ffbox}{t7}{1237.5,1034}{37}{12}{6}{Plataforma\\ESRI for\_...}
\nd{bxs,fill=green!60!white}{t8}{1343,1017.5}{36}{23}{6.4}{Cluster 1}\draw[line width=.6pt] ($(t8.north west)+(2.5,0)$)--($(t8.south west)+(2.5,0)$);
\draw[conn] (t6)--(t8);\ico{1318,1049}\ico{1363,1032}

% ---------- Informacao
\nd{bxn,fill=grayb}{n1}{1524,169}{58}{44}{9.5}{Navio}\bars{n1}{7}
\nd{bxn,fill=grayb}{n2}{1600,169}{58}{44}{9.8}{Classe\\Informação\\02}\bars{n2}{7}
\nd{bxn,fill=grayb}{n3}{1773,167}{52}{40.5}{8.8}{Navio}\bars{n3}{7}
\icoc{1558,197}\icoc{1634,197}\icoc{1805,193}
\nd{bxn,fill=cy2}{n4}{1700,253.5}{52}{39}{9}{KITBORDO}\bars{n4}{6.5}
\nd{bxn,fill=cy2}{n5}{1773,253.5}{52}{39}{9}{SGOP}\bars{n5}{6.5}
\nd{bxn,fill=cy2}{n6}{1836,253.5}{52}{39}{9}{Modelo\\SGDS}\bars{n6}{6.5}
\coordinate (nj) at (1773,210.5);\draw[conn] (n3.south)--(n5.north);\draw[conn] (nj)-|(n4.north);\draw[conn] (nj)-|(n6.north);
\icoc{1731,279}
\nd{bxn,fill=cy2}{r1}{1525,415}{59}{45}{10}{KITBORDO}\bars{r1}{7}
\nd{bxn,fill=teal}{r2}{1572,475}{59}{37.5}{10}{KITBORDO\\(modelo de dados\\glossário)}\bars{r2}{2}\bars{r2}{4}
\nd{bxn,fill=teal}{r3}{1572,523}{59}{38}{10}{KITBORDO\\Off-Line}\bars{r3}{2}\bars{r3}{4}
\nd{bxn,fill=teal}{r4}{1654,499}{58}{36.5}{10}{KITBORDO\\Corporativo}\bars{r4}{2}\bars{r4}{4}
\coordinate (r1s) at (1514,437.5);\draw[conn] (r1s)|-(r2.west);\draw[conn] (r1s)|-(r3.west);\draw[conn] (r1s)|-(r4.west);
\icoc{1560,444}
\nd{bxn,fill=cy}{k0}{1781,410}{48}{36.5}{8.4}{KITBORDO}\bars{k0}{6}
\nd{bxs,fill=cy}{k1}{1733,470}{60}{38}{8.2}{H5OKITBD}
\nd{bxs,fill=cy}{k2}{1829,470}{60}{38}{8.2}{H0OKITBD}
\nd{bxs,fill=cy}{k3}{1733,519}{60}{38.5}{8.2}{H6OKITBD}
\nd{bxs,fill=cy}{k4}{1829,519}{60}{38.5}{8.2}{HPOKITBD}
\draw[conn] (k1.east)--(k2.west);\draw[conn] (k3.east)--(k4.west);\coordinate (k5) at (1781,519);\draw[conn] (k0.south)--(k5);
\icoc{1810,433.6}

% ---------- Organizacao
\nd{elp,fill=ylw}{o0}{1584,756}{49}{26}{5.6}{Holding}\orgbar{o0}{19}{9}
\foreach \i/\x in {1/1488.5,2/1546,3/1609,4/1666}{\nd{elp,fill=ylw}{o\i}{\x,801.5}{48}{25}{5.8}{Subsid\i}\orgbar{o\i}{19}{8}}
\coordinate (oj) at (1584,782);\draw[conn,line width=1pt] (o0.south)--(oj);
\foreach \i in {1,2,3,4}{\draw[arr,line width=1pt] (oj)-|(o\i.north);}
\ico{1610,772}
\definecolor{yy}{HTML}{FFFF00}
\nd{elp,fill=yy}{ob}{1727,758.5}{48}{31}{8.4}{Brasil}\orgbar{ob}{19}{10}
\foreach \n/\x/\y/\t in {1/1769/793/Açailândia,2/1826/793/Água Limpa,3/1883/793/Aguaí,4/1769/831/Bambuí,5/1826/831/Barão de carmargo,6/1883/831/Barcarena,7/1769/869/Brucutu,8/1826/869/Brumado,9/1883/869/Buenópolis}{
 \nd{elp,fill=yy}{oy\n}{\x,\y}{48}{31}{8.4}{\t}\orgbar{oy\n}{19}{10}
 \begin{pgfonlayer}{lines}\draw[pale] (ob.west)|-(oy\n.north west);\end{pgfonlayer}
}
\definecolor{ymin}{HTML}{FFFF99}
\tikzset{mel/.style={ellipse,draw=black,line width=.9pt,fill=ymin,inner sep=0pt,shd},mbx/.style={draw=black,line width=.8pt,fill=ymin,inner sep=0pt,shd}}
\nd{mel}{q1}{1561,943}{17}{10}{2.2}{Diretor}
\nd{mel}{q2}{1593,943}{20}{10}{2.2}{Holding}
\nd{bxn,fill=white}{q3}{1622.5,940.5}{29}{29}{2.2}{}\lb{q3l}{1622,930}{2.2}{Localidades - Países}
\nd{mel,fill=yy}{q4}{1619,943}{12}{8}{2.2}{Brasil}
\draw[conn] (q1)--(q2);\draw[arr] (q2)--(q4);\ico{1603,950}
\nd{mel}{q5}{1593,968}{17}{10}{2.2}{Presidência}
\nd{mel}{q6}{1609,981}{20}{10}{2.2}{Auditoria\\Interna}
\nd{mel}{q7}{1593,997}{20}{10}{2.2}{Diretoria\\Geral}
\coordinate (qh) at (1593,1033);
\draw[conn] (q2)--(q5);\draw[conn] (q5.south)|-(q6.west);\draw[conn] (q5)--(q7);\draw[conn,line width=1.6pt] (q7.south)--(qh);
\foreach \n/\x/\y in {8/1635/981,9/1643/989,10/1635/1000,11/1643/1008,12/1643/1017,13/1643/1025,14/1564/997,15/1550/1006}{\nd{mbx}{q\n}{\x,\y}{20}{6}{2.2}{Gerência}}
\draw[conn] (q6.east)--(q8.west);\draw[conn] (q8.south west)|-(q9.west);\draw[conn] (q6.east)-|(q10.west);
\foreach \i in {11,12,13}{\draw[conn] (q10.south west)|-(q\i.west);}
\draw[conn] (q7.west)--(q14.east);\draw[conn] (q14.south)|-(q15.east);
\foreach \i/\x in {1/1487,2/1524,3/1564,4/1601,5/1638,6/1675,7/1712,8/1749}{
 \nd{mel}{oe\i}{\x,1044}{20}{10}{2.2}{Diretoria}
 \draw[conn] (oe\i.north)|-(qh);
 \nd{mbx}{oa\i}{{\x-13},1058}{20}{6}{2.2}{Gerência}
 \nd{mbx}{ob\i}{{\x-21},1066.5}{20}{6}{2.2}{Gerência}
 \nd{mbx}{oc\i}{{\x-13},1076}{20}{6}{2.2}{Gerência}
 \draw[conn] (oe\i.south)|-(oa\i.east);\draw[conn] (oe\i.south)|-(ob\i.east);\draw[conn] (oe\i.south)|-(oc\i.east);
}
\foreach \i/\x in {5/1638,6/1675}{\nd{mbx}{od\i}{{\x-13},1087}{20}{6}{2.2}{Gerência}\draw[conn] (oe\i.south)|-(od\i.east);}
\ico{1498,1043}
\nd{elp,fill=ylw}{oz}{1786.5,956.5}{49}{29}{5.3}{Depto. de\\Tecnologia\\da Informação -\\DITI}\orgbar{oz}{21}{8}\ico{1813,974}
\definecolor{gb1}{HTML}{33FF66}\definecolor{gb2}{HTML}{66FF99}
\nd{bxs,fill=gb1}{oz1}{1853,998}{110}{28}{5.3}{Desenvolver uma Arquitetura de Tecnologia\\de Informação, considerando processos,\\sistemas e infra-estrutura, que permitirá a\\holding atingir seus objetivos e metas utilizando\\a visão integrada da empresa}
\nd{bxs,fill=gb1}{oz2}{1853,1037.5}{110}{29}{5.3}{Prover Tecnologia de Informação que coloque\\a holding em uma posição competitiva dentro\\das Indústrias de atuação e que suporte a\\estratégia de crescimento da empresa}
\nd{bxs,fill=gb2}{oz3}{1853,1077}{110}{28}{5.3}{The IT organization is responsible for\\Information Technology}
\foreach \i in {1,2,3}{\draw[line width=.7pt] ($(oz\i.south east)+(-22,0)$)--($(oz\i.south east)+(0,-7)$);\draw[conn,black!70] (oz.south)|-(oz\i.west);}
\lb{ozl1}{1813,982}{5.2}{Missão - DITI}\lb{ozl2}{1812,1021}{5.2}{Visão - DITI}\lb{ozl3}{1817,1057}{5.2}{Princípios - DITI}

% ---------- green arrows
\fill[arrowc] (359,151)--(554,151)--(554,112)--(633,216)--(554,322)--(554,282)--(359,282)--cycle;
\node[bigt,font=\fzl{21.4}{26}] (q1a) at (475,220.5) {Que sistemas serão\\desativados pelos novos\\projetos/programas?};
\fill[arrowc] (1066,112) rectangle (1451,183);
\node[bigt,font=\fzl{21.5}{25},align=left,anchor=west] (q2a) at (1086,149.5) {Quais categorias tecnológicas não\\têm alvo de padronização definido?};
\fill[arrowc] (863,285.5)--(1402,285.5)--(1402,262.5)--(1502,308)--(1402,354)--(1402,331)--(863,331)--cycle;
\node[bigt,font=\fz{21.5}] (q3a) at (1159,310.5) {Que sistemas são utilizados por um modelo de dados?};
\fill[arrowc] (887,363)--(1423,642)--(1437,619)--(1510,717)--(1387,713)--(1398,689)--(862,409)--cycle;
\node[bigt,font=\fz{21.4},rotate=-27.7] (q4a) at (1168,538) {Que sistemas atendem a uma determinada área organizacional?};
\fill[arrowc] (283,870)--(541,564)--(521,547)--(609,524)--(603,615)--(582,599)--(324,904)--cycle;
\node[bigt,font=\fz{23.5},rotate=50] (q5a) at (445,722) {Os processos utilizam quais Sistemas?};
\fill[arrowc] (839,607)--(1043,607)--(1043,564)--(1102,655)--(1043,748)--(1043,704)--(839,704)--cycle;
\node[bigt,font=\fzl{19}{22.5}] (q6a) at (957,658.5) {Quais sistemas /\\Aplicações ou consultas\\são afetados com\\a parada de um servidor?};
\fill[arrowc] (860,841)--(1143,841)--(1143,807)--(1196,874)--(1143,940)--(1143,908)--(860,908)--cycle;
\node[bigt,font=\fzl{21.5}{26}] (q7a) at (1016,877.5) {Qual a forma de\\Implementação das interfaces?};
\end{tikzpicture}
\end{document}
